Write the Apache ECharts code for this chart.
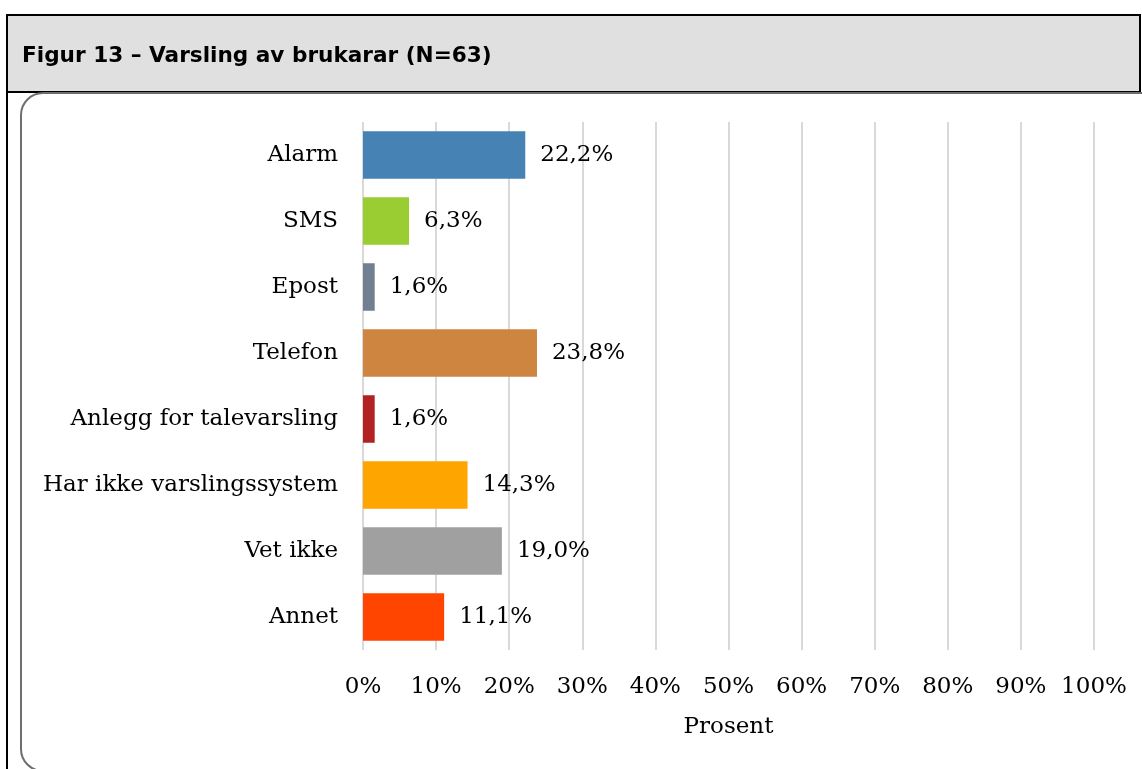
<!DOCTYPE html>
<html>
<head>
  <meta charset="UTF-8">
  <style>
    html, body { margin: 0; padding: 0; background: #fff; }
    #chart { width: 1142px; height: 769px; }
  </style>
</head>
<body>
<div id="chart"></div>
<script src="https://cdn.jsdelivr.net/npm/echarts@6/dist/echarts.min.js"></script>
<script type="text/javascript">
  var categories = ['Alarm', 'SMS', 'Epost', 'Telefon', 'Anlegg for talevarsling', 'Har ikke varslingssystem', 'Vet ikke', 'Annet'];
  var values = [22.2, 6.3, 1.6, 23.8, 1.6, 14.3, 19.0, 11.1];
  var barColors = ['#4682b4', '#9acd32', '#708090', '#cd853f', '#b22222', '#ffa500', '#a0a0a0', '#ff4500'];
  var tickValues = [0, 10, 20, 30, 40, 50, 60, 70, 80, 90, 100];

  var serif = '"DejaVu Serif", "Liberation Serif", serif';
  var myChart = echarts.init(document.getElementById('chart'), null, { renderer: 'canvas' });

  var option = {
    backgroundColor: '#fff',
    animation: false,
    graphic: [
      // header box
      { type: 'rect', shape: { x: 7, y: 15, width: 1133, height: 77 },
        style: { fill: '#e0e0e0', stroke: '#000', lineWidth: 2 }, z: 0 },
      { type: 'text', left: 22, top: 45,
        style: { text: 'Figur 13 – Varsling av brukarar (N=63)', fill: '#000',
                 font: 'bold 21.6px "DejaVu Sans", Verdana, sans-serif' }, z: 2 },
      // left frame line
      { type: 'line', shape: { x1: 7, y1: 92, x2: 7, y2: 769 },
        style: { stroke: '#000', lineWidth: 2 }, z: 1 },
      // rounded chart area
      { type: 'rect', shape: { x: 21, y: 93, width: 1150, height: 678, r: 22 },
        style: { fill: 'none', stroke: '#6e6e6e', lineWidth: 2 }, z: 1 }
    ],
    grid: { left: 363, right: 48, top: 122, height: 528, containLabel: false },
    xAxis: {
      type: 'value', min: 0, max: 100, interval: 10,
      name: 'Prosent', nameLocation: 'middle', nameGap: 66,
      nameTextStyle: { fontFamily: serif, fontSize: 23, color: '#000' },
      axisLine: { show: false }, axisTick: { show: false },
      axisLabel: { fontFamily: serif, fontSize: 23, color: '#000', margin: 26,
        formatter: function (v) { return tickValues.indexOf(v) >= 0 ? v + '%' : ''; } },
      splitLine: { show: true, lineStyle: { color: '#d9d9d9', width: 2 } }
    },
    yAxis: {
      type: 'category', data: categories, inverse: true,
      axisLine: { show: false }, axisTick: { show: false },
      axisLabel: { fontFamily: serif, fontSize: 23, color: '#000', margin: 25 }
    },
    series: [{
      type: 'bar',
      data: values.map(function (v, i) { return { value: v, itemStyle: { color: barColors[i] } }; }),
      barCategoryGap: '28%',
      label: {
        show: true, position: 'right', distance: 15,
        fontFamily: serif, fontSize: 23, color: '#000',
        formatter: function (p) { return p.value.toFixed(1).replace('.', ',') + '%'; }
      }
    }]
  };
  myChart.setOption(option);
</script>
</body>
</html>
